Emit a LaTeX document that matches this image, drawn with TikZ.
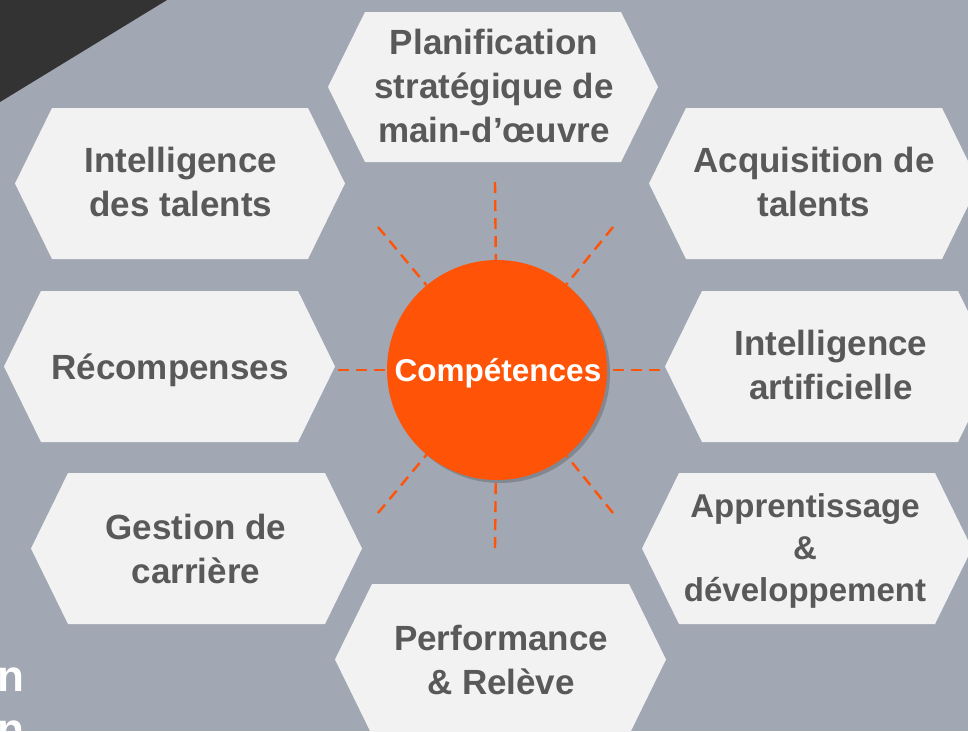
\documentclass[tikz,border=0pt]{standalone}
\usepackage{fontspec}
\setmainfont{Liberation Sans}
\usetikzlibrary{shadows}
\definecolor{bggray}{HTML}{A1A7B3}
\definecolor{hexfill}{HTML}{F2F2F2}
\definecolor{hextext}{HTML}{595959}
\definecolor{sunorange}{HTML}{FF5308}
\definecolor{darkcorner}{HTML}{333333}
\tikzset{
  hexshape/.style={fill=hexfill},
  hexlabel/.style={text=hextext, align=center, inner sep=0pt,
    font=\bfseries\fontsize{35}{44}\selectfont},
  smalllabel/.style={hexlabel, font=\bfseries\fontsize{33}{42}\selectfont},
  ray/.style={draw=sunorange, line width=2.4pt, dash pattern=on 11pt off 7pt},
  sun/.style={circle, fill=sunorange, minimum size=220pt, inner sep=0pt,
    drop shadow={shadow xshift=3pt, shadow yshift=-3pt, opacity=0.35, fill=black!70}},
  suntext/.style={text=white, inner sep=0pt, font=\bfseries\fontsize{31.5}{36}\selectfont},
  edgetext/.style={text=white, inner sep=0pt, font=\bfseries\fontsize{44}{53}\selectfont}
}
\newcommand\hexpoly[4]{% x1, y1, x2, y2
  \fill[hexshape] (#1,{(#2+#4)/2}) -- ({#1+37},#2) -- ({#3-37},#2) -- (#3,{(#2+#4)/2})
    -- ({#3-37},#4) -- ({#1+37},#4) -- cycle;}
\begin{document}
\begin{tikzpicture}[x=1pt,y=-1pt]
\useasboundingbox (0,0) rectangle (968,731);
\clip (0,0) rectangle (968,731);
\fill[bggray] (0,0) rectangle (968,731);
\fill[darkcorner] (0,0) -- (167,0) -- (0,102) -- cycle;

% hexagons
\hexpoly{328}{12}{658}{162}
\hexpoly{15}{108}{345}{259}
\hexpoly{649}{108}{979}{259}
\hexpoly{4}{291}{335}{442}
\hexpoly{665}{291}{995}{442}
\hexpoly{31}{473}{362}{624}
\hexpoly{642}{473}{972}{624}
\hexpoly{335}{584}{666}{735}

\node[hexlabel] (plan) at (494,86) {Planification\\stratégique de\\main-d’œuvre};
\node[hexlabel] (ital) at (181,182) {Intelligence\\des talents};
\node[hexlabel] (acq) at (814,182) {Acquisition de\\talents};
\node[hexlabel, anchor=base] (rec) at (170,379) {Récompenses};
\node[hexlabel] (ia) at (831,365) {Intelligence\\artificielle};
\node[hexlabel] (gest) at (196,549) {Gestion de\\carrière};
\node[smalllabel] (app) at (805,551) {Apprentissage\\\&\\développement};
\node[hexlabel] (perf) at (501,660) {Performance\\\& Relève};

% sun
\node[sun] (c) at (497,370) {};
\coordinate (rt) at (495,182);
\coordinate (rb) at (495,548);
\coordinate (rl) at (338,370);
\coordinate (rr) at (660,370);
\coordinate (rul) at (378,227);
\coordinate (rur) at (613,227);
\coordinate (rll) at (378,513);
\coordinate (rlr) at (613,513);
\foreach \e in {rt,rb,rl,rr,rul,rur,rll,rlr}{\draw[ray] (\e) -- (c);}
\node[suntext, anchor=base] (ctext) at (498,381) {Compétences};

% cut-off text at the left edge (cut off in the reference too)
\node[edgetext, anchor=base east] (n1) at (25,691) {n};
\node[edgetext, anchor=base east] (n2) at (25,744) {n};
\end{tikzpicture}
\end{document}
